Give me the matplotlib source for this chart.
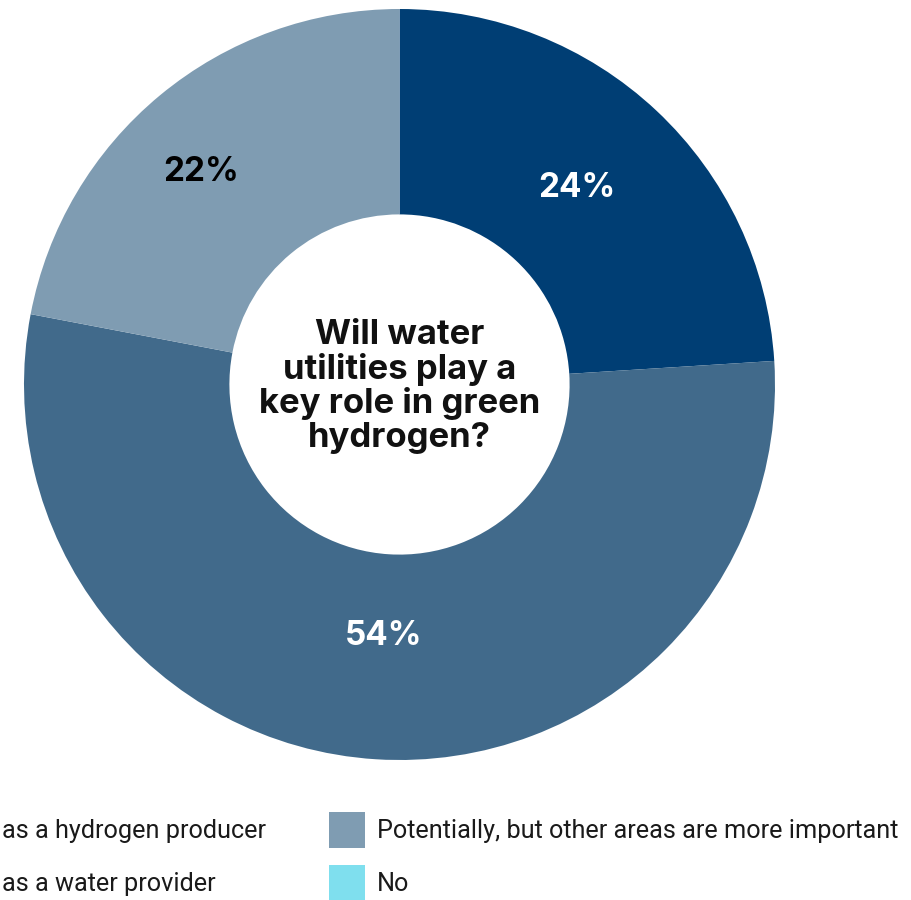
import matplotlib.pyplot as plt
import matplotlib.transforms as mtransforms
from matplotlib.patches import Patch

plt.rcParams['font.family'] = ['Roboto', 'DejaVu Sans']

categories = ["as a hydrogen producer", "as a water provider",
              "Potentially, but other areas are more important", "No"]
shares = [24, 54, 22, 0]
colors = ["#003e74", "#416a8b", "#7f9cb2", "#7fdfee"]
label_colors = ["white", "white", "black", "black"]
question = "Will water\nutilities play a\nkey role in green\nhydrogen?"

fig = plt.figure(figsize=(9.12, 9.0), dpi=100)
ax = fig.add_axes([24 / 912, 140 / 900, 751 / 912, 751 / 900])

wedges, texts, autotexts = ax.pie(
    shares, colors=colors, startangle=90, counterclock=False,
    autopct=lambda p: f"{p:.0f}%" if p >= 1 else "",
    pctdistance=0.69, radius=1.0,
    wedgeprops=dict(width=0.547, linewidth=0),
)
# small nudges so the labels sit where the original has them
nudges = [(0, 8), (0, 7), (-33, 13), (0, 0)]
for t, c, (dx, dy) in zip(autotexts, label_colors, nudges):
    t.set_color(c)
    t.set_fontsize(24)
    t.set_fontweight("bold")
    t.set_family(["Inter", "DejaVu Sans"])
    t.set_transform(mtransforms.offset_copy(
        t.get_transform(), fig=fig, x=dx, y=dy, units="dots"))

ax.text(0, -0.005, question, ha="center", va="center", fontsize=25,
        fontweight="bold", family=["Inter", "DejaVu Sans"],
        linespacing=1.07, color="#111111")
ax.set_xlim(-1, 1)
ax.set_ylim(-1, 1)
ax.set_aspect("equal")
ax.axis("off")

handles = [Patch(facecolor=c, edgecolor="none") for c in colors]
fs = 18.2
fs_px = fs * 100 / 72
hl = 36 / fs_px
common = dict(loc="upper left", frameon=False, borderpad=0, borderaxespad=0,
              fontsize=fs, handlelength=hl, handleheight=(hl - 0.245) / 0.65,
              handletextpad=0.47, labelspacing=0.67, labelcolor="#1a1a1a")

leg_a = fig.legend(handles[:2], categories[:2],
                   bbox_to_anchor=(-46 / 912, 1 - 812 / 900), **common)
leg_b = fig.legend(handles[2:], categories[2:],
                   bbox_to_anchor=(329 / 912, 1 - 812 / 900), **common)

fig.savefig("out.png", dpi=100)
